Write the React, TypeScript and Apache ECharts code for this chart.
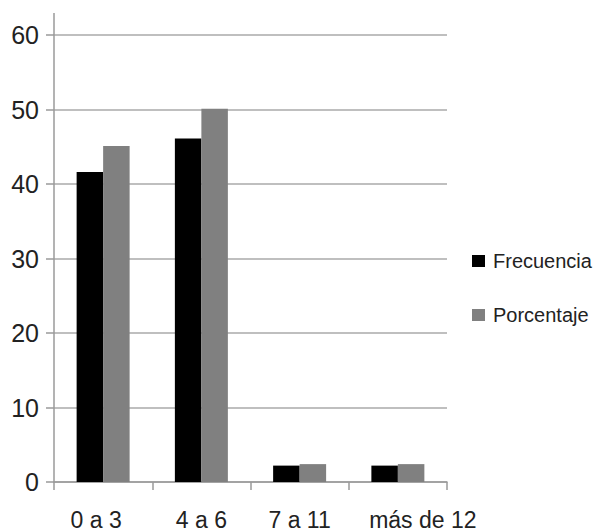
import React, { useEffect, useRef } from "react";
import * as echarts from "echarts";

const categories = ["0 a 3", "4 a 6", "7 a 11", "más de 12"];
const frecuencia = [41.6, 46.1, 2.2, 2.2];
const porcentaje = [45.1, 50.1, 2.4, 2.4];
const seriesNames = ["Frecuencia", "Porcentaje"];

export default function App() {
  const ref = useRef<HTMLDivElement>(null);
  useEffect(() => {
    document.body.style.margin = "0";
    const chart = echarts.init(ref.current!, null, { renderer: "svg" });
    const axisColor = "#9a9a9a";
    const labelPads = [[0, 14, 0, 0], [0, 0, 0, 0], [0, 0, 0, 0], [0, 0, 0, 50]];
    chart.setOption({
      animation: false,
      backgroundColor: "#ffffff",
      grid: { left: 54, right: 152, top: 35, bottom: 49, containLabel: false },
      legend: {
        orient: "vertical",
        left: 467,
        top: 246,
        itemWidth: 13,
        itemHeight: 12,
        itemGap: 34,
        icon: "rect",
        data: seriesNames,
        textStyle: {
          fontFamily: "Liberation Sans",
          fontSize: 20,
          color: "#222",
          padding: [0, 0, 0, 3],
        },
      },
      xAxis: {
        type: "category",
        data: categories.map((c, i) => ({
          value: c,
          textStyle: { padding: labelPads[i] },
        })),
        axisLine: { lineStyle: { color: axisColor, width: 1.5 } },
        axisTick: { show: true, length: 8, lineStyle: { color: axisColor, width: 1.5 } },
        axisLabel: {
          interval: 0,
          fontFamily: "Liberation Sans",
          fontSize: 23,
          color: "#222",
          margin: 26,
        },
      },
      yAxis: {
        type: "value",
        min: 0,
        max: 60,
        interval: 10,
        axisLine: { show: true, lineStyle: { color: axisColor, width: 1.5 } },
        axisTick: { show: true, length: 8, lineStyle: { color: axisColor, width: 1.5 } },
        splitLine: { lineStyle: { color: "#aaaaaa", width: 1.5 } },
        axisLabel: {
          fontFamily: "Liberation Sans",
          fontSize: 25,
          color: "#222",
          margin: 15,
          padding: [3, 0, 0, 0],
        },
      },
      graphic: [
        {
          type: "line",
          shape: { x1: 54, y1: 13, x2: 54, y2: 35 },
          style: { stroke: axisColor, lineWidth: 1.5 },
          silent: true,
        },
      ],
      series: [
        {
          name: seriesNames[0],
          type: "bar",
          data: frecuencia,
          barWidth: 26.5,
          barGap: "0%",
          itemStyle: { color: "#000000" },
        },
        {
          name: seriesNames[1],
          type: "bar",
          data: porcentaje,
          barWidth: 26.5,
          barGap: "0%",
          itemStyle: { color: "#808080" },
        },
      ],
    });
    return () => chart.dispose();
  }, []);
  return <div ref={ref} style={{ width: 599, height: 531 }} />;
}
